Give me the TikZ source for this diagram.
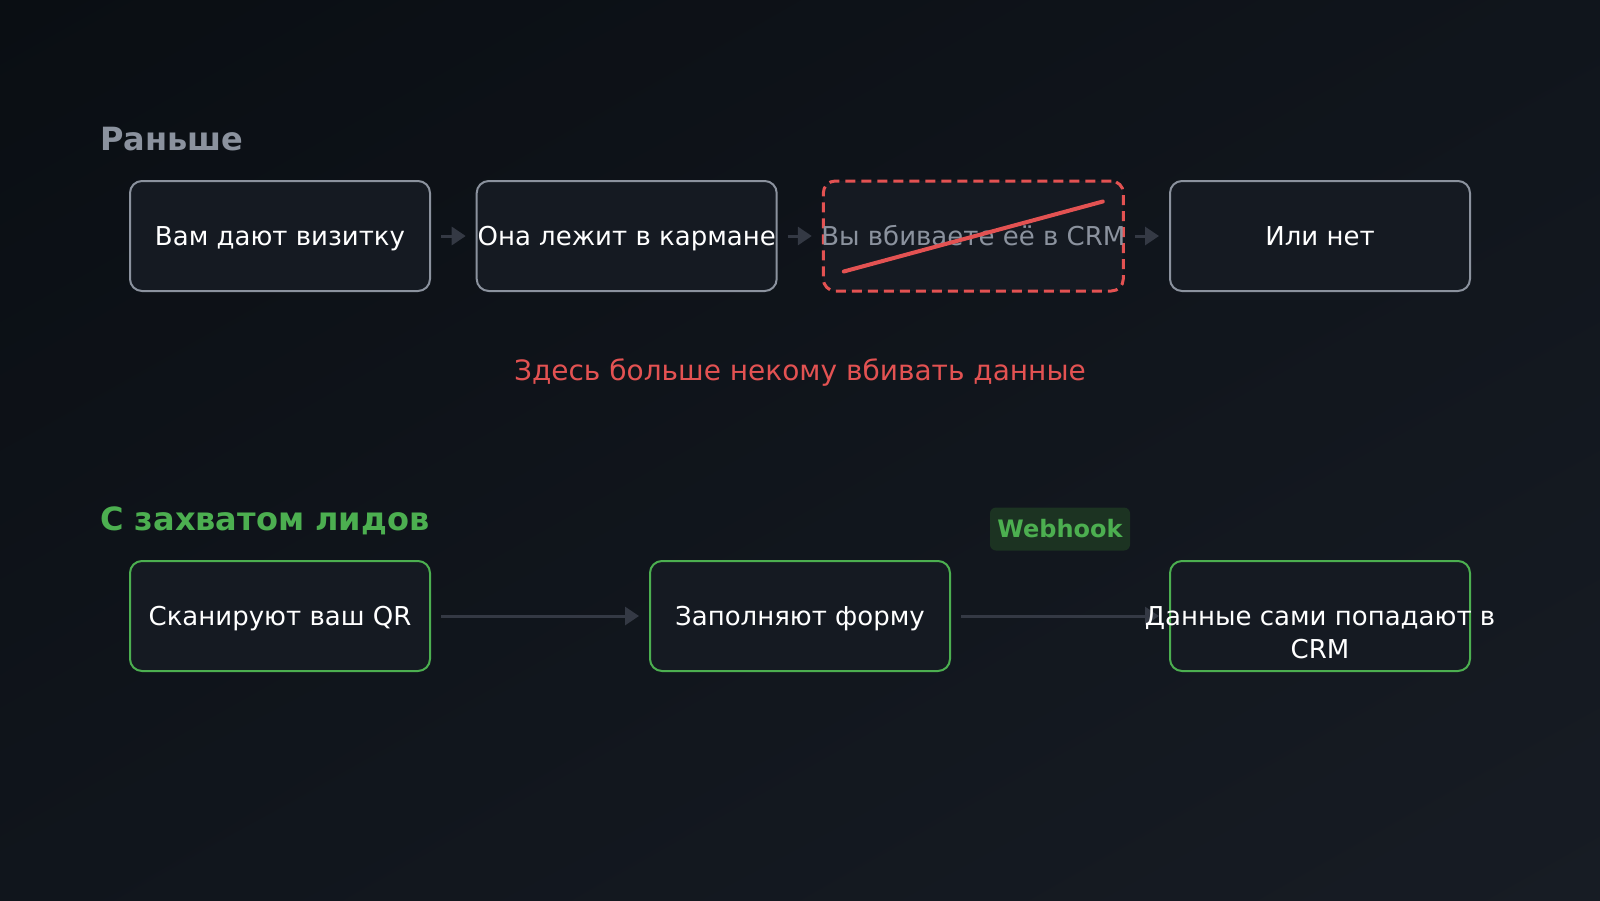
\documentclass[tikz,border=0pt]{standalone}
\usepackage{fontspec}
\setmainfont{DejaVu Sans}
\usetikzlibrary{arrows.meta,calc,shadings}
\definecolor{bgA}{HTML}{0A0E13}
\definecolor{bgM}{HTML}{10151C}
\definecolor{bgB}{HTML}{171C24}
\definecolor{boxfill}{HTML}{151A22}
\definecolor{greyline}{HTML}{8B929E}
\definecolor{arrowgrey}{HTML}{343944}
\definecolor{redmark}{HTML}{E35252}
\definecolor{greenmark}{HTML}{4CAF50}
\definecolor{greenbadge}{HTML}{1C3322}
\tikzset{>={Triangle[length=14pt,width=18pt]},
  every node/.style={font=\fontsize{26}{33}\selectfont,text=white,inner sep=0pt},
  stepbox/.style={draw=greyline,line width=2pt,fill=boxfill,rounded corners=12pt,minimum width=300pt,minimum height=110pt,text height=19pt,text depth=0pt},
  gonebox/.style={stepbox,draw=redmark,dash pattern=on 10pt off 6pt,line width=3pt,text=greyline},
  leadbox/.style={stepbox,draw=greenmark},
  flow/.style={line width=3pt,draw=arrowgrey,->,shorten <=10pt,shorten >=10pt},
  heading/.style={anchor=base west,font=\fontsize{32}{32}\selectfont\bfseries}}

\begin{document}
\begin{tikzpicture}[x=1pt,y=-1pt]
\shade[upper left=bgA,upper right=bgM,lower left=bgM,lower right=bgB] (0,0) rectangle (1600,900);
\node[heading,text=greyline] (before) at (100,150) {Раньше};
\node[stepbox] (b1) at (280,236) {Вам дают визитку};\node[stepbox] (b2) at (626.7,236) {Она лежит в кармане};
\node[gonebox] (b3) at (973.3,236) {\makebox[0pt]{Вы вбиваете её в CRM}};\node[stepbox] (b4) at (1320,236) {Или нет};
\draw[flow] (b1)--(b2);\draw[flow] (b2)--(b3);\draw[flow] (b3)--(b4);
\draw[redmark,line width=4pt,line cap=round] ($(b3.south west)+(22,-21)$)--($(b3.north east)+(-22,22)$);
\node[text=redmark,anchor=base,font=\fontsize{28}{28}\selectfont] (lost) at (800,380) {Здесь больше некому вбивать данные};
\node[heading,text=greenmark] (after) at (100,530) {С захватом лидов};
\node[leadbox] (l1) at (280,616) {Сканируют ваш QR};\node[leadbox] (l2) at (800,616) {Заполняют форму};\node[leadbox] (l3) at (1320,616) {};
\node[fill=greenbadge,rounded corners=6pt,minimum width=140pt,minimum height=43pt,text=greenmark,font=\fontsize{24}{24}\selectfont\bfseries,text height=17.5pt,text depth=0pt] (hook) at (1060,529) {Webhook};
\draw[flow] (l1)--(l2);\draw[flow] (l2)--(l3);
\node[align=center,anchor=base] (l3text) at (1320,658) {Данные сами попадают в\\CRM};
\end{tikzpicture}
\end{document}
